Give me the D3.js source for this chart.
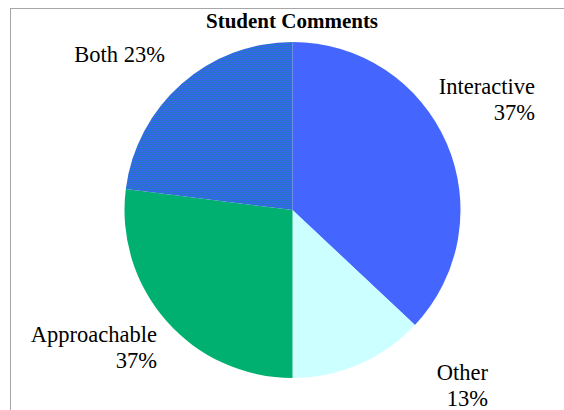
<!DOCTYPE html>
<html><head><meta charset="utf-8">
<script src="https://cdn.jsdelivr.net/npm/d3@7"></script>
<style>html,body{margin:0;padding:0;background:#fff;overflow:hidden}
text{font-family:'Liberation Serif','Times New Roman',serif}</style>
</head><body>
<svg id="c" width="564" height="410"></svg>
<script>
const categories = ["Interactive", "Other", "Approachable", "Both"];
const values = [37, 13, 27, 23];
const labelPercents = ["37%", "13%", "37%", "23%"];
const title = "Student Comments";

const W = 564, H = 410;
const cx = 292.5, cy = 210, R = 168;
const colors = ["#4466ff", "#ccffff", "#00b070", "url(#dots)"];

const svg = d3.select("#c");
const defs = svg.append("defs");
const pat = defs.append("pattern").attr("id", "dots").attr("patternUnits", "userSpaceOnUse")
  .attr("width", 4).attr("height", 4);
pat.append("rect").attr("width", 4).attr("height", 4).attr("fill", "#3a62f0");
[[0,0],[2,2]].forEach(([x,y]) => pat.append("rect").attr("x", x).attr("y", y)
  .attr("width", 1).attr("height", 1).attr("fill", "#00a070"));
[[2,0],[0,2]].forEach(([x,y]) => pat.append("rect").attr("x", x).attr("y", y)
  .attr("width", 1).attr("height", 1).attr("fill", "#1e80c0"));

svg.append("rect").attr("x", 10.5).attr("y", 8.5).attr("width", 700).attr("height", 600)
  .attr("fill", "#fff").attr("stroke", "#a6a6a6").attr("stroke-width", 1);

svg.append("text").attr("x", 292).attr("y", 28).attr("text-anchor", "middle")
  .attr("font-weight", "bold").attr("font-size", 21).text(title);

const pie = d3.pie().sort(null).value(d => d)(values);
const arc = d3.arc().innerRadius(0).outerRadius(R);
const g = svg.append("g").attr("transform", `translate(${cx},${cy})`);
g.selectAll("path").data(pie).enter().append("path")
  .attr("d", arc).attr("fill", (d, i) => colors[i]);

const labelLayout = [
  {x: 535, y: 94, lines: [categories[0], labelPercents[0]]},
  {x: 488, y: 380, lines: [categories[1], labelPercents[1]]},
  {x: 157, y: 342, lines: [categories[2], labelPercents[2]]},
  {x: 165, y: 62, lines: [categories[3] + " " + labelPercents[3]]}
];
labelLayout.forEach(l => {
  const t = svg.append("text").attr("font-size", 22.5).attr("text-anchor", "end").attr("fill", "#000");
  l.lines.forEach((s, k) => {
    t.append("tspan").attr("x", l.x).attr("y", l.y + k * 26).text(s);
  });
});
</script>
</body></html>
